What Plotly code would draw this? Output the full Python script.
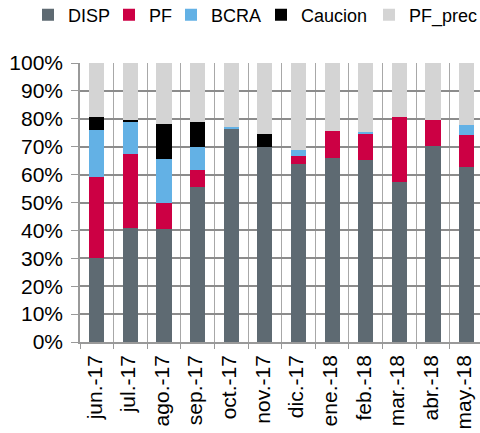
import plotly.graph_objects as go

months = ["jun.-17", "jul.-17", "ago.-17", "sep.-17", "oct.-17", "nov.-17",
          "dic.-17", "ene.-18", "feb.-18", "mar.-18", "abr.-18", "may.-18"]

disp = [30.2, 40.8, 40.5, 55.7, 76.5, 70.0, 63.8, 66.1, 65.3, 57.3, 70.3, 62.8]
pf = [29.1, 26.5, 9.3, 6.1, 0.0, 0.0, 2.7, 9.6, 9.4, 23.2, 9.1, 11.4]
bcra = [16.7, 11.6, 15.7, 8.0, 0.7, 0.0, 2.4, 0.0, 0.7, 0.0, 0.0, 3.7]
caucion = [4.6, 0.5, 12.8, 9.1, 0.0, 4.5, 0.0, 0.0, 0.0, 0.0, 0.0, 0.0]
pf_prec = [19.4, 20.6, 21.7, 21.1, 22.8, 25.5, 31.1, 24.3, 24.6, 19.5, 20.6, 22.1]

series = [
    ("DISP", disp, "#5e6a72"),
    ("PF", pf, "#cc0044"),
    ("BCRA", bcra, "#63b1e5"),
    ("Caucion", caucion, "#000000"),
    ("PF_prec", pf_prec, "#d4d4d4"),
]
# left edge (px) of each legend entry, one legend per series so the
# entries can sit where the original has them
legend_left = [28, 109, 171, 261, 369]

fig = go.Figure()
legends = {}
for i, (name, vals, color) in enumerate(series):
    key = "legend" if i == 0 else "legend%d" % (i + 1)
    fig.add_trace(go.Bar(x=months, y=vals, name=name, marker_color=color,
                         marker_line_width=0, legend=key, showlegend=True))
    legends[key] = dict(orientation="h", xref="container", yref="container",
                        x=legend_left[i] / 480, xanchor="left",
                        y=0.965, yanchor="middle", font=dict(size=18),
                        itemwidth=30, bgcolor="rgba(0,0,0,0)")

font = "Liberation Sans, Arial, sans-serif"
fig.update_layout(
    barmode="stack",
    bargap=0.55,
    showlegend=True,
    width=480, height=433,
    margin=dict(l=80, r=0, t=63, b=91),
    plot_bgcolor="white", paper_bgcolor="white",
    font=dict(family=font, size=21, color="black"),
    **legends,
)
fig.update_xaxes(
    range=[-0.5, 11.4], tickson="boundaries", ticks="outside", ticklen=5,
    tickcolor="#999999", showgrid=True, gridcolor="#a8a8a8", gridwidth=1,
    showline=True, linecolor="#999999", linewidth=1.5,
    tickangle=-90, tickfont=dict(size=21), ticklabelshift=-2,
    ticklabelstandoff=3, automargin=False,
)
fig.update_yaxes(
    range=[0, 100], dtick=10, ticksuffix="%", ticks="outside", ticklen=7,
    tickcolor="#999999", showgrid=True, gridcolor="#8c8c8c", gridwidth=1.5,
    showline=True, linecolor="#999999", linewidth=1.5, zeroline=False,
    ticklabelstandoff=4, tickfont=dict(size=21), automargin=False,
)

# drop the browser's default 8px body margin so the figure fills the window
fig.write_html("out.html", config={"displayModeBar": False},
               post_script="document.body.style.margin='0';")
